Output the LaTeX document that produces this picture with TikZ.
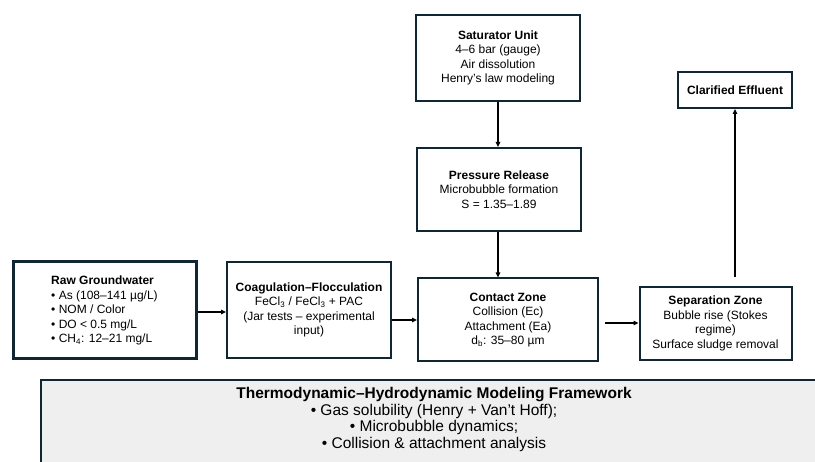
\documentclass[tikz,border=0pt]{standalone}
\usepackage{fontspec}
\setmainfont{Liberation Sans}
\usepackage{tikz}
\usetikzlibrary{arrows.meta,positioning,calc}
\usepackage{xcolor}
\definecolor{boxedge}{RGB}{16,38,50}
\definecolor{framegrey}{RGB}{239,239,239}

\begin{document}
\begin{tikzpicture}[x=1pt,y=-1pt,
    unitbox/.style={rectangle, draw=boxedge, line width=2pt, fill=white,
        font=\fontsize{12}{14.5}\selectfont, align=center, inner sep=2pt},
    arr/.style={-{Triangle[length=5pt,width=4.5pt]}, line width=1.4pt, black}
]
    \useasboundingbox (0,0) rectangle (815,462);

    % process units
    \node[unitbox, line width=3pt, align=left, minimum width=183, minimum height=97] (raw) at (104.5,310.5)
        {\textbf{Raw Groundwater}\\ • As (108–141 µg/L)\\ • NOM / Color\\ • DO < 0.5 mg/L\\ • CH\textsubscript{4}: 12–21 mg/L};
    \node[unitbox, minimum width=164, minimum height=96] (coag) at (309,310)
        {\textbf{Coagulation–Flocculation}\\ FeCl\textsubscript{3} / FeCl\textsubscript{3} + PAC\\ (Jar tests – experimental\\ input)};
    \node[unitbox, minimum width=180, minimum height=83] (contact) at (508,320)
        {\textbf{Contact Zone}\\ Collision (Ec)\\ Attachment (Ea)\\ d\textsubscript{b}: 35–80 µm};
    \node[unitbox, minimum width=152, minimum height=73] (sep) at (715.5,323.5)
        {\textbf{Separation Zone}\\ Bubble rise (Stokes\\ regime)\\ Surface sludge removal};
    \node[unitbox, minimum width=164, minimum height=86] (sat) at (498,58)
        {\textbf{Saturator Unit}\\ 4–6 bar (gauge)\\ Air dissolution\\ Henry’s law modeling};
    \node[unitbox, minimum width=164, minimum height=83] (press) at (499,189.5)
        {\textbf{Pressure Release}\\ Microbubble formation\\ S = 1.35–1.89};
    \node[unitbox, minimum width=114, minimum height=36] (clar) at (735,90)
        {\textbf{Clarified Effluent}};

    % modelling framework
    \draw[draw=boxedge, line width=2pt, fill=framegrey] (41,380) rectangle (840,490);
    \node[font=\fontsize{15.5}{16.5}\selectfont, align=center] (frame) at (434,419.5)
        {\textbf{Thermodynamic–Hydrodynamic Modeling Framework}\\ • Gas solubility (Henry + Van’t Hoff);\\ • Microbubble dynamics;\\ • Collision \& attachment analysis};

    % flow
    \draw[arr] (raw.east |- 0,312) -- (coag.west |- 0,312);
    \draw[arr] (coag.east |- contact) -- (contact.west);
    \draw[arr, shorten <=6pt] (contact.east |- 0,323) -- (sep.west |- 0,323);
    \draw[arr] (sat.south) -- (sat.south |- press.north);
    \draw[arr] (press.south -| sat.south) -- (sat.south |- contact.north);
    \draw[arr, shorten <=9pt] (clar.south |- sep.north) -- (clar.south);
\end{tikzpicture}
\end{document}
